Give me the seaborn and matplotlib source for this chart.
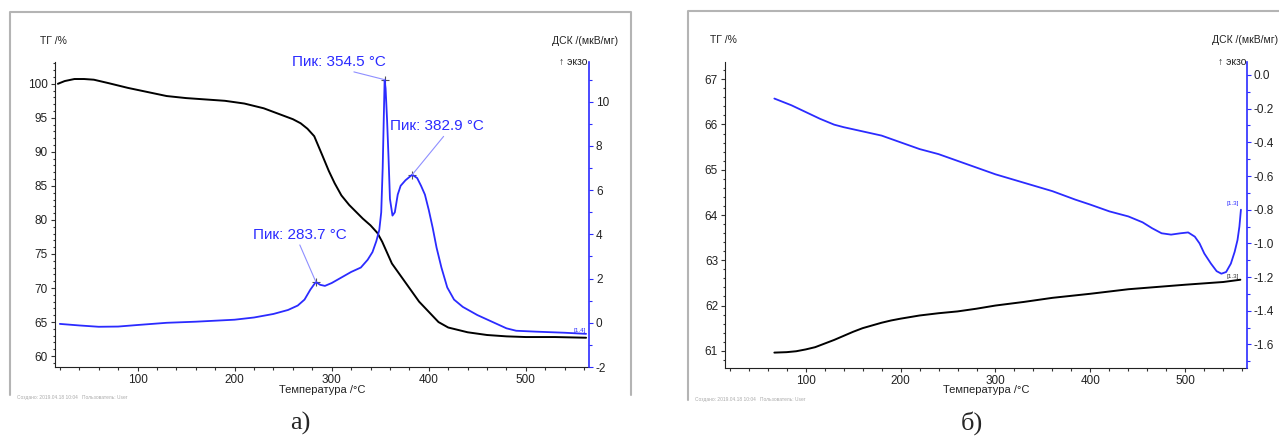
import matplotlib
matplotlib.use('Agg')
import matplotlib.pyplot as plt
import seaborn as sns
from matplotlib.ticker import MultipleLocator, AutoMinorLocator, FormatStrFormatter
from matplotlib.lines import Line2D

# --- данные панели а) ---
tg_a_temp = [18, 25, 35, 45, 55, 70, 90, 110, 130, 150, 170, 190, 210, 230, 245, 260,
             268, 275, 282, 290, 297, 303, 310, 318, 325, 332, 340, 347, 352, 357,
             362, 370, 380, 390, 400, 410, 420, 440, 460, 480, 500, 530, 562]
tg_a_val = [100.0, 100.4, 100.7, 100.7, 100.6, 100.1, 99.4, 98.8, 98.2, 97.9, 97.7, 97.5,
            97.1, 96.4, 95.6, 94.8, 94.2, 93.4, 92.3, 89.6, 87.2, 85.4, 83.6, 82.2, 81.2,
            80.2, 79.2, 78.1, 76.8, 75.2, 73.6, 72.0, 70.0, 68.0, 66.5, 65.0, 64.2, 63.5,
            63.1, 62.9, 62.8, 62.8, 62.7]

dsc_a_temp = [20, 40, 60, 80, 100, 130, 160, 200, 220, 240, 255, 265, 272, 278, 283.7,
              288, 293, 300, 310, 320, 330, 337, 342, 346, 349, 351, 352.5, 353.5, 354.5,
              355.5, 357, 358.5, 360, 362.6, 365, 368, 371, 376, 382.9, 388, 392, 396,
              400, 404, 408, 413, 419, 426, 435, 450, 465, 480, 490, 510, 540, 562]
dsc_a_val = [-0.05, -0.12, -0.18, -0.17, -0.10, 0.0, 0.05, 0.14, 0.24, 0.40, 0.58, 0.78,
             1.05, 1.50, 1.85, 1.72, 1.67, 1.80, 2.05, 2.30, 2.50, 2.85, 3.20, 3.70, 4.20,
             5.00, 7.00, 9.00, 11.0, 10.6, 9.2, 7.5, 5.6, 4.85, 5.0, 5.8, 6.2, 6.45, 6.7,
             6.55, 6.2, 5.8, 5.1, 4.3, 3.4, 2.5, 1.6, 1.05, 0.72, 0.35, 0.05, -0.25, -0.36,
             -0.40, -0.45, -0.50]

peaks_a_temp = [283.7, 354.5, 382.9]
peaks_a_val = [1.85, 11.0, 6.7]

# --- данные панели б) ---
tg_b_temp = [67, 80, 90, 100, 110, 120, 130, 140, 150, 160, 170, 180, 190, 200, 220, 240,
             260, 280, 300, 330, 360, 400, 440, 470, 500, 520, 540, 558]
tg_b_val = [60.96, 60.97, 60.99, 61.03, 61.08, 61.16, 61.24, 61.33, 61.42, 61.50, 61.56,
            61.62, 61.67, 61.71, 61.78, 61.83, 61.87, 61.93, 62.0, 62.08, 62.17, 62.26,
            62.36, 62.41, 62.46, 62.49, 62.52, 62.57]

dsc_b_temp = [67, 85, 100, 115, 130, 140, 160, 180, 200, 220, 240, 260, 280, 300, 330,
              360, 384, 400, 420, 440, 455, 465, 475, 485, 495, 503, 510, 515, 520, 527,
              533, 538, 543, 548, 552, 555, 557, 558.6]
dsc_b_val = [-0.14, -0.18, -0.22, -0.26, -0.295, -0.31, -0.335, -0.36, -0.40, -0.44, -0.47,
             -0.51, -0.55, -0.59, -0.64, -0.69, -0.74, -0.77, -0.81, -0.84, -0.875, -0.91,
             -0.94, -0.948, -0.94, -0.935, -0.96, -1.0, -1.06, -1.12, -1.165, -1.18, -1.17,
             -1.12, -1.05, -0.98, -0.90, -0.80]

BLUE = '#2b2bff'
W, H = 1279, 436

sns.set_style('white')
plt.rcParams['font.family'] = ['Liberation Sans', 'DejaVu Sans']
plt.rcParams['axes.unicode_minus'] = False

fig = plt.figure(figsize=(W / 100, H / 100), dpi=100)


def box(x0, y0, x1, y1):
    # прямоугольник в пикселях -> координаты фигуры
    return [x0 / W, 1 - y1 / H, (x1 - x0) / W, (y1 - y0) / H]


def fig_text(x, y, s, **kw):
    fig.text(x / W, 1 - y / H, s, **kw)


def frame(points):
    xs = [p[0] / W for p in points]
    ys = [1 - p[1] / H for p in points]
    fig.add_artist(Line2D(xs, ys, transform=fig.transFigure, color='#b4b4b4', lw=1.5))


def make_panel(rect, tg_lim, dsc_lim):
    ax = fig.add_axes(rect)
    ax.set_facecolor('none')
    ax2 = ax.twinx()
    ax.set_xlim(15, 565)
    ax.set_ylim(*tg_lim)
    ax2.set_ylim(*dsc_lim)
    for s in ['top', 'right']:
        ax.spines[s].set_visible(False)
    for s in ['top', 'left', 'bottom']:
        ax2.spines[s].set_visible(False)
    ax.spines['left'].set_color('#222')
    ax.spines['bottom'].set_color('#222')
    ax2.spines['right'].set_color(BLUE)
    ax2.spines['right'].set_linewidth(1.2)
    ax.xaxis.set_major_locator(MultipleLocator(100))
    ax.xaxis.set_minor_locator(AutoMinorLocator(5))
    ax.tick_params(which='both', left=True, bottom=True, direction='out',
                   color='#333', width=0.8, labelsize=8.5, pad=2, labelcolor='#222')
    ax.tick_params(which='major', length=3)
    ax.tick_params(which='minor', length=1.8)
    ax2.tick_params(which='both', right=True, direction='out', color=BLUE,
                    width=0.8, labelsize=8.5, pad=2, labelcolor='#222')
    ax2.tick_params(which='major', length=3)
    ax2.tick_params(which='minor', length=1.8)
    ax.set_xlabel('')
    ax.set_ylabel('')
    ax2.set_ylabel('')
    return ax, ax2


# ---------------- панель а) ----------------
frame([(10, 395), (10, 12), (631, 12), (631, 395)])
ax, ax2 = make_panel(box(55, 62, 589, 367), (58.4, 103.2), (-2, 11.8))
ax.yaxis.set_major_locator(MultipleLocator(5))
ax.yaxis.set_minor_locator(AutoMinorLocator(5))
ax2.yaxis.set_major_locator(MultipleLocator(2))
ax2.yaxis.set_minor_locator(AutoMinorLocator(2))

sns.lineplot(x=tg_a_temp, y=tg_a_val, ax=ax, color='black', lw=1.4, sort=False, estimator=None)
sns.lineplot(x=dsc_a_temp, y=dsc_a_val, ax=ax2, color=BLUE, lw=1.3, sort=False, estimator=None)
sns.scatterplot(x=peaks_a_temp, y=peaks_a_val, ax=ax2, marker='+', color='#555', s=30, linewidth=0.8)

# подписи пиков: (смещение текста в пунктах, выравнивание, точка начала линии)
peak_styles = [((-45, 34), 'left', (0.48, 0)),
               ((1, 13), 'right', (0.52, 0)),
               ((-16, 35), 'left', (0.6, 0))]
for t, v, (off, ha, rel) in zip(peaks_a_temp, peaks_a_val, peak_styles):
    ax2.annotate(f'Пик: {t} °C', xy=(t, v), xytext=off, textcoords='offset points',
                 ha=ha, va='center', fontsize=11, color=BLUE,
                 arrowprops=dict(arrowstyle='-', color='#8f8fff', lw=0.8,
                                 shrinkA=0, shrinkB=0, relpos=rel))
ax2.text(dsc_a_temp[-1], dsc_a_val[-1] + 0.05, '[1.4]', fontsize=4.5, color=BLUE,
         ha='right', va='bottom')

fig_text(40, 41, 'ТГ /%', fontsize=7.5, color='#222', va='center')
fig_text(552, 41, 'ДСК /(мкВ/мг)', fontsize=7.5, color='#222', va='center')
fig_text(587, 62, '↑ экзо', fontsize=7.5, color='#222', va='center', ha='right')
fig_text(322, 390, 'Температура /°C', fontsize=8, color='#222', va='center', ha='center')
fig_text(17, 397, 'Создано: 2019.04.18 10:04   Пользователь: User', fontsize=3.5,
         color='#aaaaaa', va='center')
fig_text(300, 423, 'а)', fontsize=19, family='Liberation Serif', va='center', ha='center')

# ---------------- панель б) ----------------
frame([(688, 400), (688, 11), (1279, 11)])
bx, bx2 = make_panel(box(725, 62, 1247, 368), (60.62, 67.38), (-1.74, 0.077))
bx.yaxis.set_major_locator(MultipleLocator(1))
bx.yaxis.set_minor_locator(AutoMinorLocator(5))
bx2.yaxis.set_major_locator(MultipleLocator(0.2))
bx2.yaxis.set_minor_locator(AutoMinorLocator(2))
bx2.yaxis.set_major_formatter(FormatStrFormatter('%.1f'))

sns.lineplot(x=tg_b_temp, y=tg_b_val, ax=bx, color='black', lw=1.4, sort=False, estimator=None)
sns.lineplot(x=dsc_b_temp, y=dsc_b_val, ax=bx2, color=BLUE, lw=1.3, sort=False, estimator=None)
bx2.text(dsc_b_temp[-1] - 2, dsc_b_val[-1] + 0.02, '[1.3]', fontsize=4.5, color=BLUE,
         ha='right', va='bottom')
bx.text(tg_b_temp[-1] - 2, tg_b_val[-1] + 0.02, '[1.3]', fontsize=4.5, color='#333',
        ha='right', va='bottom')

fig_text(710, 40, 'ТГ /%', fontsize=7.5, color='#222', va='center')
fig_text(1212, 40, 'ДСК /(мкВ/мг)', fontsize=7.5, color='#222', va='center')
fig_text(1246, 62, '↑ экзо', fontsize=7.5, color='#222', va='center', ha='right')
fig_text(986, 390, 'Температура /°C', fontsize=8, color='#222', va='center', ha='center')
fig_text(695, 399, 'Создано: 2019.04.18 10:04   Пользователь: User', fontsize=3.5,
         color='#aaaaaa', va='center')
fig_text(972, 423, 'б)', fontsize=19, family='Liberation Serif', va='center', ha='center')

fig.savefig('out.png', dpi=100)
